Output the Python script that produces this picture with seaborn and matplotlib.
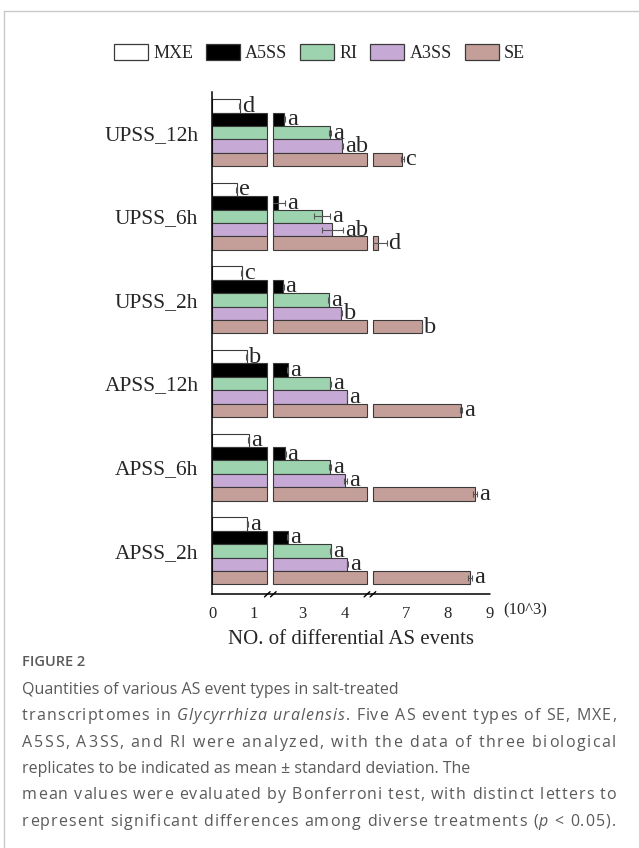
import numpy as np
import pandas as pd
import matplotlib
matplotlib.use("Agg")
import matplotlib.pyplot as plt
from matplotlib.patches import Patch
from matplotlib.lines import Line2D
from matplotlib.font_manager import FontProperties, findfont
from matplotlib.ft2font import FT2Font
import seaborn as sns

try:
    from matplotlib.ft2font import LoadFlags
    NO_HINT = LoadFlags.NO_HINTING
except ImportError:
    NO_HINT = 2

# ---- data (counts in units of 10^3) ----
treatments = ["UPSS_12h", "UPSS_6h", "UPSS_2h", "APSS_12h", "APSS_6h", "APSS_2h"]
event_types = ["MXE", "A5SS", "RI", "A3SS", "SE"]

mxe = [0.66, 0.58, 0.70, 0.82, 0.87, 0.84]
a5ss = [2.56, 2.40, 2.53, 2.64, 2.58, 2.64]
ri = [3.65, 3.46, 3.62, 3.66, 3.65, 3.67]
a3ss = [3.95, 3.71, 3.92, 4.06, 4.02, 4.07]
se = [6.91, 6.32, 7.38, 8.31, 8.65, 8.53]

mxe_sd = [0.01, 0.02, 0.01, 0.01, 0.01, 0.01]
a5ss_sd = [0.01, 0.17, 0.01, 0.01, 0.01, 0.01]
ri_sd = [0.03, 0.20, 0.01, 0.01, 0.03, 0.01]
a3ss_sd = [0.01, 0.25, 0.01, 0.01, 0.04, 0.01]
se_sd = [0.03, 0.21, 0.01, 0.02, 0.05, 0.04]

mxe_sig = ["d", "e", "c", "b", "a", "a"]
a5ss_sig = ["a", "a", "a", "a", "a", "a"]
ri_sig = ["a", "a", "a", "a", "a", "a"]
a3ss_sig = ["ab", "ab", "b", "a", "a", "a"]
se_sig = ["c", "d", "b", "a", "a", "a"]

segment_limits = [(0, 1.32), (2.29, 4.54), (6.2, 9.0)]
segment_ticks = [[0, 1], [3, 4], [7, 8, 9]]

palette = {"MXE": "#ffffff", "A5SS": "#000000", "RI": "#9dd3ae",
           "A3SS": "#c7a9d5", "SE": "#c49f99"}

means = {"MXE": mxe, "A5SS": a5ss, "RI": ri, "A3SS": a3ss, "SE": se}
sds = {"MXE": mxe_sd, "A5SS": a5ss_sd, "RI": ri_sd, "A3SS": a3ss_sd, "SE": se_sd}
sigs = {"MXE": mxe_sig, "A5SS": a5ss_sig, "RI": ri_sig, "A3SS": a3ss_sig, "SE": se_sig}

rows = []
for ev in event_types:
    for i, t in enumerate(treatments):
        rows.append({"treatment": t, "event": ev, "mean": means[ev][i],
                     "sd": sds[ev][i], "sig": sigs[ev][i]})
df = pd.DataFrame(rows)

# ---- style ----
sns.set_style("white")
plt.rcParams["font.family"] = ["Liberation Serif", "DejaVu Serif"]

W, H = 639, 848
fig = plt.figure(figsize=(W / 100, H / 100), dpi=100)
fig.patch.set_facecolor("white")

# broken x axis: three panels sharing one scale
left_px, gap_px, unit_px = 212.3, 5.6, 41.8
top_px, bottom_px = 91.7, 594.3
axes = []
x = left_px
for lo, hi in segment_limits:
    w = (hi - lo) * unit_px
    ax = fig.add_axes([x / W, 1 - bottom_px / H, w / W, (bottom_px - top_px) / H])
    axes.append(ax)
    x += w + gap_px

edge = "#3a3a3a"
for k, ax in enumerate(axes):
    sns.barplot(data=df, x="mean", y="treatment", hue="event", order=treatments,
                hue_order=event_types, palette=palette, saturation=1,
                errorbar=None, edgecolor=edge, linewidth=0.8, width=0.8,
                orient="h", legend=False, ax=ax)
    lo, hi = segment_limits[k]
    ax.set_xlim(lo, hi)
    ax.set_ylim(5.52, -0.49)
    ax.set_xlabel("")
    ax.set_ylabel("")
    ax.set_xticks(segment_ticks[k])
    ax.set_xticklabels([str(v) for v in segment_ticks[k]])
    ax.tick_params(axis="x", direction="out", length=3.2, width=1, pad=5.5,
                   labelsize=12, color="black")
    for s in ["top", "right", "bottom"]:
        ax.spines[s].set_visible(False)
    if k == 0:
        ax.spines["left"].set_color("black")
        ax.spines["left"].set_linewidth(1.1)
        ax.tick_params(axis="y", length=0, pad=10, labelsize=15.5)
    else:
        ax.spines["left"].set_visible(False)
        ax.tick_params(axis="y", left=False, labelleft=False)

    # error bars and significance letters, positioned from the drawn bars
    for p in ax.patches:
        yc = p.get_y() + p.get_height() / 2
        ci = int(round(yc))
        wv = p.get_width()
        sub = df[(df["treatment"] == treatments[ci]) & (np.isclose(df["mean"], wv))]
        if sub.empty:
            continue
        r = sub.iloc[0]
        ax.errorbar(r["mean"], yc, xerr=r["sd"], fmt="none", ecolor="#555555",
                    elinewidth=0.8, capsize=2.2, capthick=0.8, zorder=5)
        xe = r["mean"] + r["sd"]
        inside = lo <= xe <= hi or (k == len(axes) - 1 and xe > hi)
        if inside:
            ax.annotate(r["sig"], xy=(xe, yc + p.get_height() * 0.44),
                        xytext=(1.4, 0), textcoords="offset points",
                        ha="left", va="baseline", fontsize=17.5,
                        annotation_clip=False, zorder=6)

    # trim each bar to its panel so every piece keeps a full outline
    for p in list(ax.patches):
        x0, x1 = p.get_x(), p.get_x() + p.get_width()
        nx0, nx1 = max(x0, lo), min(x1, hi)
        if nx1 <= nx0:
            p.set_visible(False)
            continue
        p.set_x(nx0)
        p.set_width(nx1 - nx0)
        p.set_clip_on(False)

# continuous bottom axis line with break marks
p0, p2 = axes[0].get_position(), axes[-1].get_position()
yb = p0.y0
fig.add_artist(Line2D([p0.x0, p2.x1], [yb, yb], transform=fig.transFigure,
                      color="black", lw=1.1))
dx, dy = 2.8 / W, 2.6 / H
for a, b in zip(axes[:-1], axes[1:]):
    xg = (a.get_position().x1 + b.get_position().x0) / 2
    for off in (-3.0 / W, 3.0 / W):
        xc = xg + off
        fig.add_artist(Line2D([xc - dx, xc + dx], [yb - dy, yb + dy],
                              transform=fig.transFigure, color="black", lw=1.0))

axes[-1].annotate("(10^3)", xy=(1, 0), xycoords="axes fraction",
                  xytext=(9.5, -11.5), textcoords="offset points",
                  ha="left", va="center", fontsize=12, annotation_clip=False)

fig.text(((p0.x0 + p2.x1) / 2), 1 - 640 / H, "NO. of differential AS events",
         ha="center", va="center", fontsize=15)

# legend
handles = [Patch(facecolor=palette[e], edgecolor=edge, linewidth=0.9) for e in event_types]
fig.legend(handles, event_types, loc="center", bbox_to_anchor=(0.5, 1 - 53 / H),
           ncol=5, frameon=False, fontsize=13, handlelength=1.88, handleheight=1.0,
           handletextpad=0.28, columnspacing=0.72, borderaxespad=0, borderpad=0)

# caption
cap_color = "#5a5a5a"
cap_size = 11.5
fig.text(22 / W, 1 - 662 / H, "FIGURE 2", family="Open Sans", fontsize=10.5,
         fontweight="semibold", color=cap_color, ha="left", va="center")

# text between asterisks is italic; justified lines are spread by letter spacing
caption_lines = [
    ("Quantities of various AS event types in salt-treated", False),
    ("transcriptomes in *Glycyrrhiza uralensis*. Five AS event types of SE, MXE,", True),
    ("A5SS, A3SS, and RI were analyzed, with the data of three biological", True),
    ("replicates to be indicated as mean \u00b1 standard deviation. The", False),
    ("mean values were evaluated by Bonferroni test, with distinct letters to", True),
    ("represent significant differences among diverse treatments (*p* < 0.05).", True),
]
faces = {}
for it in (False, True):
    f = FT2Font(findfont(FontProperties(family="Open Sans",
                                        style="italic" if it else "normal")))
    f.set_size(cap_size, 100)
    faces[it] = f


def advance(c, it):
    g = faces[it].load_char(ord(c), flags=NO_HINT)
    return g.linearHoriAdvance / 65536.0


x_left, x_right = 22.0, 616.0
for i, (line, justify) in enumerate(caption_lines):
    yb_px = 694.0 + 26.3 * i
    if not justify:
        fig.text(x_left / W, 1 - yb_px / H, line, family="Open Sans", fontsize=cap_size,
                 color=cap_color, ha="left", va="baseline")
        continue
    chars = []
    italic = False
    for c in line:
        if c == "*":
            italic = not italic
            continue
        chars.append((c, italic))
    adv = [advance(c, it) for c, it in chars]
    track = (x_right - x_left - sum(adv)) / (len(chars) - 1)
    xp = x_left
    for (c, it), a in zip(chars, adv):
        if c != " ":
            fig.text(xp / W, 1 - yb_px / H, c, family="Open Sans", fontsize=cap_size,
                     color=cap_color, style="italic" if it else "normal",
                     ha="left", va="baseline")
        xp += a + track

# page frame (left and top edges)
fig.add_artist(Line2D([4 / W, 4 / W], [0, 1 - 11 / H], transform=fig.transFigure,
                      color="#c8c8c8", lw=1))
fig.add_artist(Line2D([4 / W, 1], [1 - 11 / H, 1 - 11 / H], transform=fig.transFigure,
                      color="#c8c8c8", lw=1))

fig.savefig("out.png", dpi=100, facecolor="white")
